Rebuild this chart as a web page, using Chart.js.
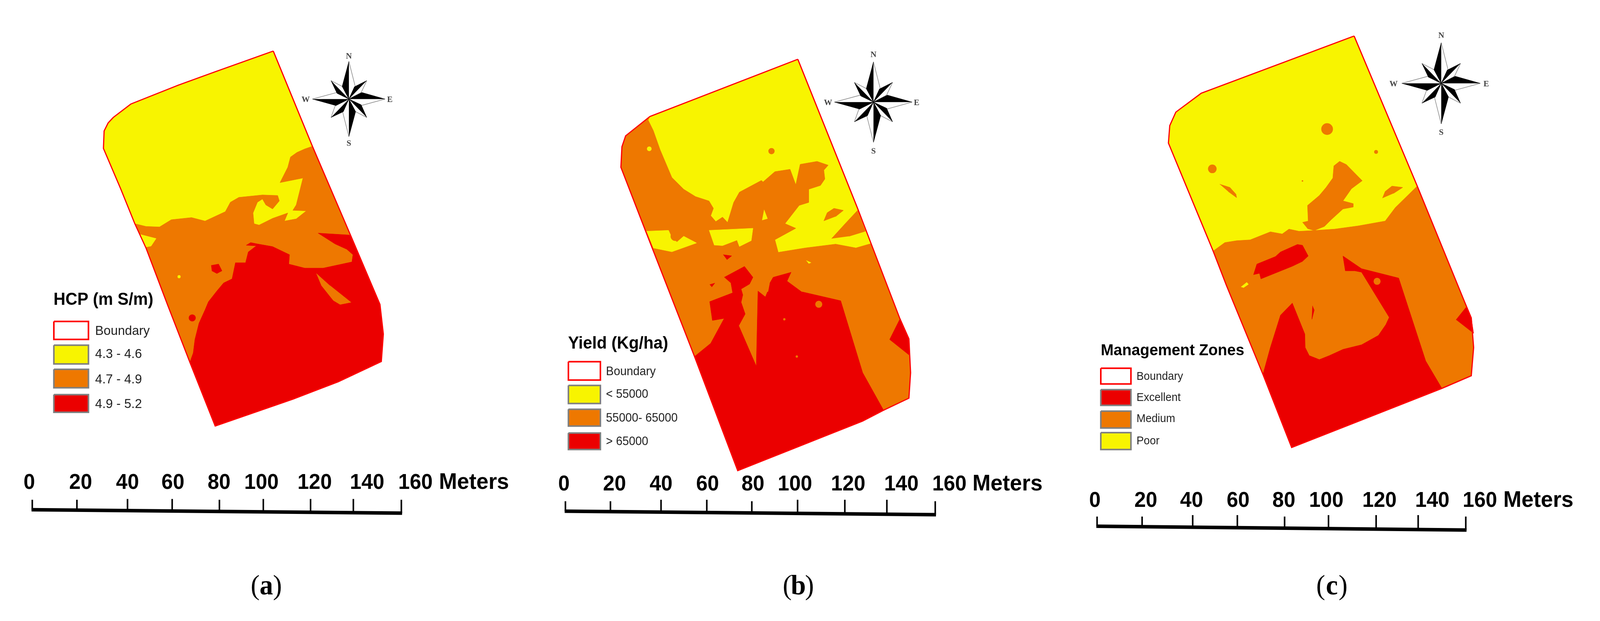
<!DOCTYPE html>
<html><head><meta charset="utf-8">
<style>html,body{margin:0;padding:0;background:#fff}canvas{display:block}</style>
<script src="https://cdn.jsdelivr.net/npm/chart.js@4/dist/chart.umd.min.js"></script>
</head><body><canvas id="c"></canvas>
<script>
const YEL='#F8F400',ORG='#EE7800',RED='#EB0000',EDGE='#FF0000';
// ---------- panel (a) HCP zones
const boundaryA=[[792,168],[620,245],[510,295],[370,365],[318,415],[303,435],[291,465],[289,530],[340,680],[382,810],[415,900],[480,1115],[545,1325],[620,1562],[850,1462],[985,1397],[1112,1322],[1118,1220],[1108,1110],[1020,850],[908,522]];
const orangeA=[[382,810],[415,820],[455,822],[490,795],[550,787],[590,800],[650,765],[665,730],[690,712],[760,703],[805,705],[810,725],[790,755],[770,740],[760,718],[745,730],[732,770],[735,810],[750,815],[790,790],[835,770],[825,800],[860,792],[890,762],[850,760],[860,740],[868,700],[880,640],[812,657],[835,600],[843,562],[862,545],[885,532],[908,522],[1020,850],[1108,1110],[1112,1322],[620,1562],[545,1325],[480,1115],[415,900]];
const redA=[[545,1325],[555,1290],[560,1240],[572,1180],[590,1130],[600,1100],[625,1060],[645,1030],[670,1015],[680,955],[710,955],[718,915],[742,892],[712,890],[725,880],[745,885],[790,895],[840,925],[838,960],[885,975],[940,975],[1025,952],[1028,925],[1010,905],[975,885],[925,845],[1018,852],[1108,1110],[1118,1220],[1112,1322],[985,1397],[850,1462],[620,1562]];
const orangeIslandA=[[920,995],[935,1040],[970,1095],[990,1110],[1022,1102],[1000,1080],[960,1040]];
const redBlobA=[[608,965],[630,960],[640,985],[625,995],[610,985]];
const yellowPatchA=[[398,850],[445,865],[430,893],[412,897]];
// ---------- panel (b) yield
const boundaryB=[[858,182],[420,377],[348,443],[337,480],[334,550],[408,770],[552,1195],[680,1584],[1050,1415],[1112,1378],[1187,1337],[1192,1250],[1187,1135],[1160,1065],[1075,810],[1035,690]];
const orangeB=[[415,390],[430,425],[450,490],[485,585],[520,625],[555,650],[595,665],[608,690],[600,715],[615,735],[635,720],[650,738],[668,670],[685,635],[750,595],[755,600],[790,565],[835,557],[852,610],[865,540],[915,530],[948,543],[935,560],[938,590],[925,612],[890,625],[890,670],[862,680],[820,742],[852,758],[790,797],[800,840],[880,825],[970,812],[1030,825],[1075,810],[1160,1065],[1187,1135],[1192,1250],[1187,1337],[1112,1378],[1050,1415],[680,1584],[552,1195],[408,770],[334,550],[337,480],[348,443],[420,377]];
const yellowLeftB=[[410,768],[475,765],[485,790],[500,805],[520,785],[558,808],[485,838],[430,825]];
const yellowMidB=[[595,765],[725,758],[720,800],[685,820],[678,798],[635,817],[610,815]];
const yellowSliverB=[[758,695],[768,725],[752,730]];
const yellowTickB=[[883,868],[897,875],[890,878]];
const orangeEdgeB=[[958,793],[1000,740],[1035,697],[1058,768],[1010,785]];
const orangeLeafB=[[935,733],[945,705],[965,690],[993,697],[970,718]];
const redMainB=[[552,1195],[600,1150],[640,1065],[605,1072],[597,1008],[665,978],[695,985],[690,1010],[702,1050],[683,1090],[735,1228],[740,972],[762,992],[768,975],[800,975],[872,975],[985,1005],[1050,1250],[1112,1378],[1050,1415],[680,1584]];
const redUpperB=[[640,925],[700,888],[725,925],[715,948],[690,965],[695,985],[665,978],[660,945]];
const redArmB=[[775,945],[785,925],[838,908],[826,938],[852,960],[872,977],[800,978],[770,975]];
const redFleckB=[[597,950],[612,945],[603,958]];
const redFleck2B=[[637,848],[662,852],[648,865]];
const redEdgeB=[[1160,1068],[1130,1137],[1190,1192],[1187,1135]];
// ---------- panel (c) management zones
const boundaryC=[[1018,112],[565,325],[490,395],[472,445],[468,510],[600,910],[640,1040],[748,1370],[833,1642],[1278,1422],[1365,1375],[1372,1270],[1365,1160],[1345,1100],[1205,670]];
const orangeC=[[600,912],[635,880],[670,873],[710,870],[770,840],[805,848],[825,830],[855,838],[900,835],[960,830],[1030,818],[1110,800],[1140,750],[1205,670],[1345,1100],[1365,1160],[1372,1270],[1365,1375],[1278,1422],[833,1642],[748,1370],[640,1040]];
const orangeFingerC=[[865,805],[882,800],[880,742],[915,705],[935,675],[955,640],[958,595],[975,578],[995,590],[1042,650],[1010,680],[985,725],[1015,735],[1015,748],[985,755],[950,795],[930,820],[900,835],[880,828]];
const orangeWedgeC=[[620,663],[650,675],[668,700],[670,713],[645,690]];
const orangeLeafC=[[1102,715],[1110,690],[1130,670],[1162,675],[1135,697]];
const redIslandC=[[720,1000],[730,960],[785,932],[800,915],[850,887],[865,890],[882,930],[865,950],[835,968],[742,1015],[738,995]];
const yellowFleckC=[[683,1045],[700,1028],[705,1035],[690,1048]];
const redMainC=[[748,1370],[770,1270],[800,1150],[835,1105],[872,1220],[873,1270],[885,1300],[915,1315],[945,1300],[985,1277],[1040,1260],[1090,1225],[1112,1185],[1122,1158],[1040,990],[1020,985],[992,985],[985,930],[1040,977],[1150,1012],[1230,1320],[1278,1422],[833,1642]];
const redSliverC=[[895,1115],[893,1165],[900,1130]];
const redEdgeC=[[1320,1167],[1350,1120],[1365,1160],[1372,1218]];
// round spots: x, y in each panel's reading units, radius in px
const spotsA=[[552,1160,9,RED],[513,1007,4,YEL]];
const spotsB=[[418,487,6,YEL],[780,495,8,ORG],[920,1017,9,ORG],[818,1068,3,ORG],[855,1195,3,ORG],[495,785,12,ORG]];
const spotsC=[[938,458,15,ORG],[598,606,11,ORG],[1083,543,5,ORG],[865,651,2,ORG],[1086,1024,9,ORG]];
// ---------- scale bars (reference px)
const meterLabels=['0','20','40','60','80','100','120','140','160'];
const labelXA=[63,201,327,449,573,687,830,971,1101];
const labelXB=[1500,1636,1761,1886,2008,2121,2264,2407,2536];
const labelXC=[2927,3064,3187,3312,3435,3549,3692,3834,3962];
const tickXA=[71,191,327,447,574,692,819,934,1063];
const tickXB=[1504,1625,1761,1884,2005,2128,2255,2368,2498];
const tickXC=[2933,3054,3190,3310,3437,3555,3683,3796,3924];
// ---------- legends
const titlesLegend=['HCP (m S/m)','Yield (Kg/ha)','Management Zones'];
const itemsA=['Boundary','4.3 - 4.6','4.7 - 4.9','4.9 - 5.2'];
const itemsB=['Boundary','< 55000','55000- 65000','> 65000'];
const itemsC=['Boundary','Excellent','Medium','Poor'];
const colorsA=['#FFFFFF',YEL,ORG,RED];
const colorsB=['#FFFFFF',YEL,ORG,RED];
const colorsC=['#FFFFFF',RED,ORG,YEL];
const boxYA=[[823,870],[885,934],[948,996],[1014,1060]];
const boxYB=[[928,976],[990,1037],[1052,1096],[1114,1157]];
const boxYC=[[945,986],[1001,1042],[1057,1101],[1113,1157]];
const textYA=[858,918,985,1049];
const textYB=[963,1022,1084,1146];
const textYC=[975,1030,1086,1144];
// ---------- compass rose, offsets from its centre
const roseBlack=[[[0,-98],[-18,-33],[0,0]],[[97,0],[35,-17],[0,0]],[[0,98],[18,33],[0,0]],[[-98,0],[-35,17],[0,0]],[[48,-48],[15,-32],[0,0]],[[-48,-48],[-32,-15],[0,0]],[[48,48],[33,15],[0,0]],[[-48,48],[-15,33],[0,0]]];
const roseWhite=[[[0,-98],[17,-33],[0,0]],[[97,0],[33,17],[0,0]],[[0,98],[-17,33],[0,0]],[[-98,0],[-33,-17],[0,0]],[[48,-48],[33,-17],[0,0]],[[-48,-48],[-18,-33],[0,0]],[[48,48],[18,33],[0,0]],[[-48,48],[-37,18],[0,0]]];

const cv=document.getElementById('c');
cv.width=Math.min(window.innerWidth||4269,4269);cv.height=1589;
const KX=cv.width/4269;
const ds=[];
const xy=p=>p.map(([x,y])=>({x,y}));
function poly(pts,color,x,y,line,lw){ds.push({data:xy(pts),showLine:true,fill:'shape',backgroundColor:color,borderColor:line||color,borderWidth:lw===undefined?1:lw,pointRadius:0,xAxisID:x,yAxisID:y,tension:0});}
function outline(pts,color,x,y,lw){ds.push({data:xy(pts.concat([pts[0]])),showLine:true,fill:false,borderColor:color,borderWidth:lw,pointRadius:0,xAxisID:x,yAxisID:y,tension:0,borderJoinStyle:'miter'});}
function spots(list,x,y){for(const [a,b,r,c] of list){ds.push({data:[{x:a,y:b}],showLine:false,pointRadius:r,pointBackgroundColor:c,pointBorderWidth:0,xAxisID:x,yAxisID:y});}}
function panel(layers,boundary,sp,x,y){poly(boundary,YEL,x,y);for(const [p,c] of layers)poly(p,c,x,y);spots(sp,x,y);outline(boundary,EDGE,x,y,3);}
panel([[orangeA,ORG],[redA,RED],[orangeIslandA,ORG],[redBlobA,RED],[yellowPatchA,YEL]],boundaryA,spotsA,'xa','ya');
panel([[orangeB,ORG],[yellowLeftB,YEL],[yellowMidB,YEL],[yellowSliverB,YEL],[yellowTickB,YEL],[orangeEdgeB,ORG],[orangeLeafB,ORG],[redMainB,RED],[redUpperB,RED],[redArmB,RED],[redFleckB,RED],[redFleck2B,RED],[redEdgeB,RED]],boundaryB,spotsB,'xb','yb');
panel([[orangeC,ORG],[orangeFingerC,ORG],[orangeWedgeC,ORG],[orangeLeafC,ORG],[redIslandC,RED],[yellowFleckC,YEL],[redMainC,RED],[redSliverC,RED],[redEdgeC,RED]],boundaryC,spotsC,'xc','yc');
// scale bars
function bar(t,y0,y1,top1,top2){const n=t.length-1;ds.push({data:xy([[t[0]-2,y0],[t[n]+2,y1]]),showLine:true,borderColor:'#000',borderWidth:9,pointRadius:0,xAxisID:'px',yAxisID:'py'});
 t.forEach((v,i)=>{const yb=y0+(y1-y0)*i/n;const tall=i===2||i===3||i===5||i===6||i===7;ds.push({data:xy([[v,tall?top2:top1],[v,yb]]),showLine:true,borderColor:'#000',borderWidth:4,pointRadius:0,xAxisID:'px',yAxisID:'py'});});}
bar(tickXA,1314,1323,1288,1286);bar(tickXB,1318,1327,1292,1288);bar(tickXC,1357,1367,1332,1328);
// legend keys
function keys(x0,x1,rows,cols){rows.forEach(([a,b],i)=>{const r=[[x0,a],[x1,a],[x1,b],[x0,b]];poly(r,cols[i],'px','py',null,0);outline(r,i===0?EDGE:'#808080','px','py',4);});}
keys(129,222,boxYA,colorsA);keys(1512,1598,boxYB,colorsB);keys(2943,3024,boxYC,colorsC);
// compass roses
function rose(cx,cy,k){for(const t of roseWhite)poly(t.map(([a,b])=>[cx+a*k,cy+b*k]),'#FFFFFF','px','py','#8a8a8a',1.5);for(const t of roseBlack)poly(t.map(([a,b])=>[cx+a*k,cy+b*k]),'#000000','px','py');}
const roseCentres=[[922,243,1],[2332,251,1.07],[3858,202,1.08]];
for(const [a,b,k] of roseCentres)rose(a,b,k);
ds.forEach((d,i)=>{d.order=ds.length-i;});

const T=(ctx,s,x,y,font,align,color)=>{ctx.save();ctx.translate(x,y);ctx.scale(KX,1);ctx.font=font;ctx.textAlign=align||'left';ctx.fillStyle=color||'#000';ctx.textBaseline='alphabetic';ctx.fillText(s,0,0);ctx.restore();};
const textPlugin={id:'mapText',afterDraw(ch){const c=ch.ctx;c.save();const P=ch.scales.px,Q=ch.scales.py;const X=v=>P.getPixelForValue(v),Y=v=>Q.getPixelForValue(v);
 const B='bold 55px "Liberation Sans Narrow","Liberation Sans"';
 [[labelXA,1260,1164],[labelXB,1264,2598],[labelXC,1307,4025]].forEach(([xs,y,m])=>{meterLabels.forEach((s,i)=>T(c,s,X(xs[i]),Y(y),'bold 55px "Liberation Sans"','center'));T(c,'Meters',X(m),Y(y),'bold 58px "Liberation Sans"');});
 const S='72px "Liberation Serif"',SB='bold 72px "Liberation Serif"';
 [['a',700],['b',2130],['c',3564]].forEach(([l,x])=>{T(c,'(',X(x-42),Y(1535),S,'left');T(c,l,X(x),Y(1535),SB,'center');T(c,')',X(x+18),Y(1535),S,'left');});
 T(c,titlesLegend[0],X(128),Y(780),'bold 44px "Liberation Sans"');
 T(c,titlesLegend[1],X(1511),Y(894),'bold 44px "Liberation Sans"');
 T(c,titlesLegend[2],X(2943),Y(911),'bold 41px "Liberation Sans"');
 itemsA.forEach((s,i)=>T(c,s,X(240),Y(textYA[i]),'34px "Liberation Sans"','left','#222'));
 itemsB.forEach((s,i)=>T(c,s,X(1613),Y(textYB[i]),'31px "Liberation Sans"','left','#222'));
 itemsC.forEach((s,i)=>T(c,s,X(3039),Y(textYC[i]),'29px "Liberation Sans"','left','#222'));
 const F='bold 22px "Liberation Serif"',G='#444';
 [[922,130,357,806,1032,243],[2332,126,377,2210,2448,251],[3858,76,328,3730,3979,202]].forEach(([x,n,s,w,e,m])=>{T(c,'N',X(x),Y(n+8),F,'center',G);T(c,'S',X(x),Y(s+8),F,'center',G);T(c,'W',X(w),Y(m+8),F,'center',G);T(c,'E',X(e),Y(m+8),F,'center',G);});
 c.restore();}};
const hid=(min,max,rev)=>({type:'linear',display:false,min,max,reverse:!!rev,grid:{display:false}});
const FX=1568/1423,FYa=1568/1100,FYb=1568/1200;
new Chart(cv,{type:'scatter',data:{datasets:ds},plugins:[textPlugin],options:{responsive:false,animation:false,devicePixelRatio:1,layout:{padding:0},plugins:{legend:{display:false},tooltip:{enabled:false},title:{display:false}},
 scales:{xa:hid(0,4269*FX),ya:hid(0,1589*FYa,true),xb:hid(-1350*FX,2919*FX),yb:hid(0,1589*FYb,true),xc:hid(-2700*FX,1569*FX),yc:hid(0,1589*FYa,true),px:hid(0,4269),py:hid(0,1589,true)}}});
</script></body></html>
